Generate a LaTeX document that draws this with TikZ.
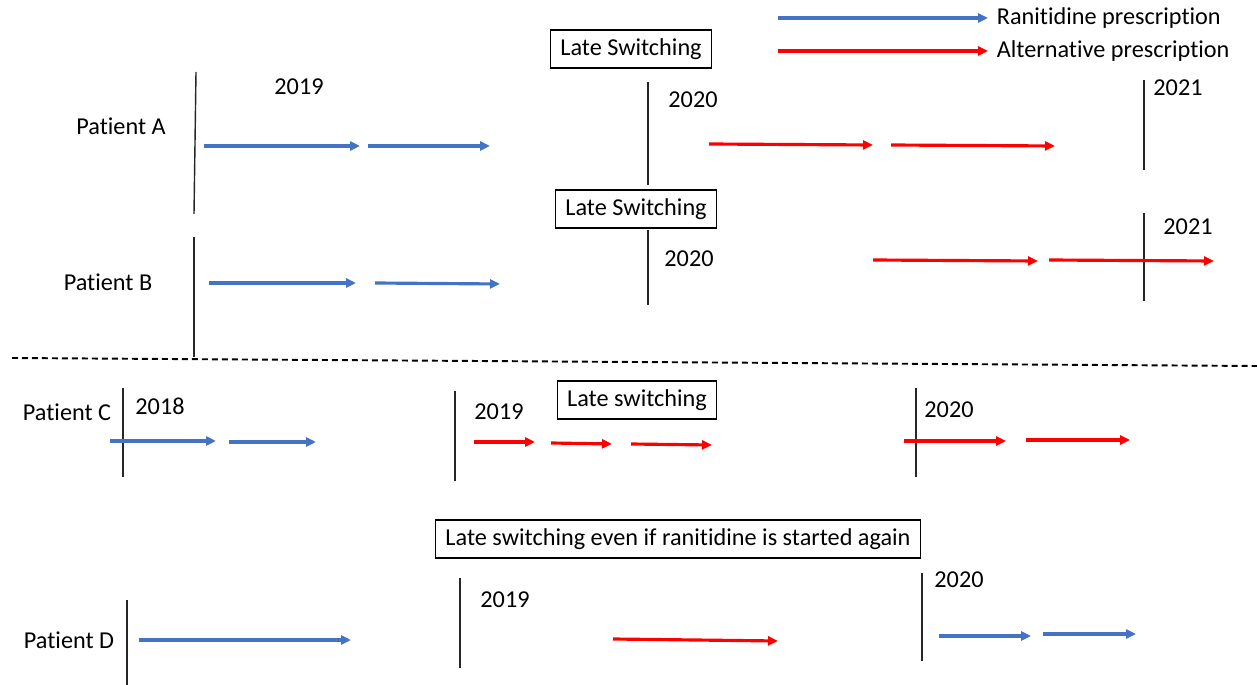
\documentclass[tikz,border=0pt]{standalone}
\usepackage{fontspec}
\setmainfont{Carlito}[RawFeature={-liga;-calt;-clig}]
\usetikzlibrary{arrows.meta}
\definecolor{RxBlue}{HTML}{4472C4}
\definecolor{RxRed}{HTML}{FF0000}

\begin{document}
\begin{tikzpicture}[
  x=0.02cm,y=-0.02cm,
  every node/.style={font=\fontsize{13.8}{16}\selectfont,inner sep=2pt},
  tag/.style={draw,line width=0.6pt,minimum height=0.76cm,inner xsep=5.5pt},
  yearline/.style={line width=0.8pt,black!85},
  ranit/.style={-{Triangle[length=2mm,width=1.8mm]},line width=1.8pt,RxBlue},
  alter/.style={-{Triangle[length=2mm,width=1.8mm]},line width=1.8pt,RxRed}
]
\useasboundingbox (0,0) rectangle (1257,685);
% legend
\coordinate (lb1) at (778,18); \coordinate (lb2) at (988,18);
\coordinate (lr1) at (778,51); \coordinate (lr2) at (988,51);
\draw[ranit] (lb1) -- (lb2);
\draw[alter] (lr1) -- (lr2);
\node[anchor=west] (lbt) at (993,18) {Ranitidine prescription};
\node[anchor=west] (lrt) at (993,51) {Alternative prescription};
% patients
\node (pa) at (121,126) {Patient A};
\node (pb) at (108,282) {Patient B};
\node (pc) at (67,412) {Patient C};
\node (pd) at (69,640) {Patient D};
% switching boxes
\node[tag] (ta) at (631,49) {Late Switching};
\node[tag] (tb) at (636,209) {Late Switching};
\node[tag] (tc) at (637,400) {Late switching};
\node[tag] (td) at (678,539) {Late switching even if ranitidine is started again};
% years
\node (ya1) at (299,87) {2019};
\node (ya2) at (693,100) {2020};
\node (ya3) at (1178,88) {2021};
\node (yb2) at (689,259) {2020};
\node (yb3) at (1188,227) {2021};
\node (yc1) at (160,406) {2018};
\node (yc2) at (499,412) {2019};
\node (yc3) at (949,410) {2020};
\node (yd2) at (505,600) {2019};
\node (yd3) at (959,580) {2020};
% year lines
\foreach \n/\xa/\ya/\xb/\yb in {a1/196/72/194/214,a2/648/82/648/185,a3/1144/80/1144/170,
  b1/194/237/194/357,b2/648/230/648/305,b3/1144/213/1144/301,
  c1/123/388/123/477,c2/455/391/455/481,c3/916/388/916/477,
  d1/127/600/127/685,d2/460/578/460/668,d3/922/573/922/661}{
  \coordinate (\n t) at (\xa,\ya);
  \coordinate (\n b) at (\xb,\yb);
  \draw[yearline] (\n t) -- (\n b);
}
% dashed separator
\coordinate (sepl) at (12,358);
\coordinate (sepr) at (1257,366);
\draw[line width=1.1pt,dash pattern=on 0.12cm off 0.08cm] (sepl) -- (sepr);
% ranitidine prescriptions
\foreach \n/\xa/\ya/\xb/\yb in {a1/204/146/360/146,a2/368/146/490/146,
  b1/209/283/356/283,b2/375/283/500/284,
  c1/110/441/216/441,c2/229/442/316/442,
  d1/139/640/351/640,d2/939/636/1031/636,d3/1043/634/1136/634}{
  \coordinate (r\n s) at (\xa,\ya);
  \coordinate (r\n e) at (\xb,\yb);
  \draw[ranit] (r\n s) -- (r\n e);
}
% alternative prescriptions
\foreach \n/\xa/\ya/\xb/\yb in {a1/709/144/873/145,a2/891/145/1055/146,
  b1/873/260/1038/261,b2/1049/260/1214/261,
  c1/474/442/535/442,c2/551/443/612/444,c3/631/444/712/445,
  c4/904/441/1006/441,c5/1026/440/1130/440,
  d1/613/639/778/641}{
  \coordinate (x\n s) at (\xa,\ya);
  \coordinate (x\n e) at (\xb,\yb);
  \draw[alter] (x\n s) -- (x\n e);
}
\end{tikzpicture}
\end{document}
